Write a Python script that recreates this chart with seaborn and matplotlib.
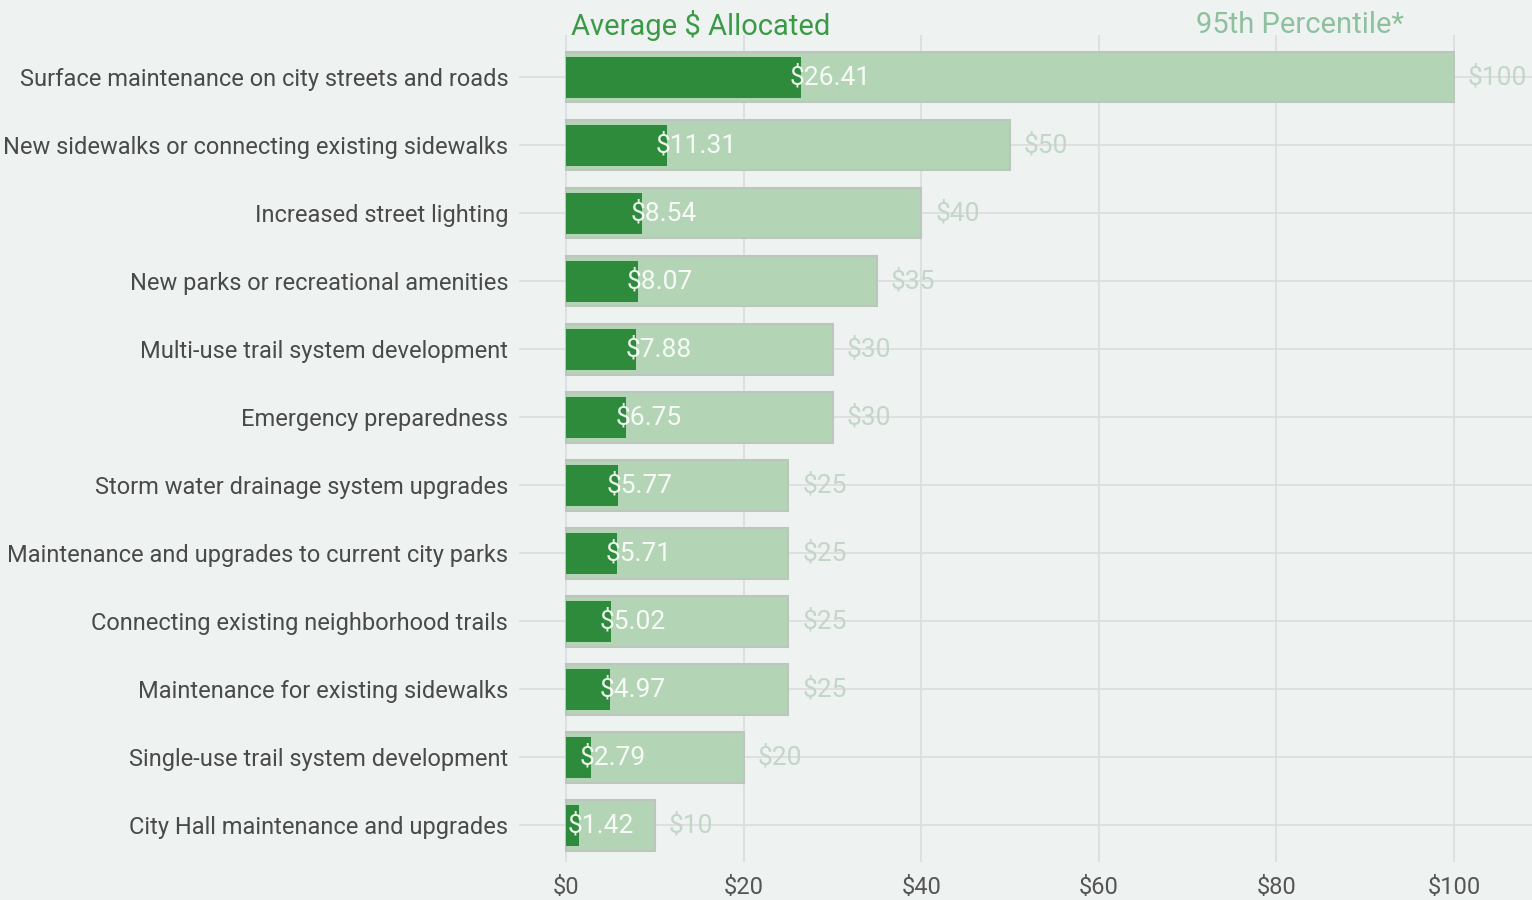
import numpy as np
import pandas as pd
import matplotlib.pyplot as plt
import seaborn as sns

categories = [
    'Surface maintenance on city streets and roads',
    'New sidewalks or connecting existing sidewalks',
    'Increased street lighting',
    'New parks or recreational amenities',
    'Multi-use trail system development',
    'Emergency preparedness',
    'Storm water drainage system upgrades',
    'Maintenance and upgrades to current city parks',
    'Connecting existing neighborhood trails',
    'Maintenance for existing sidewalks',
    'Single-use trail system development',
    'City Hall maintenance and upgrades',
]
average = [26.41, 11.31, 8.54, 8.07, 7.88, 6.75, 5.77, 5.71, 5.02, 4.97, 2.79, 1.42]
pct95 = [100, 50, 40, 35, 30, 30, 25, 25, 25, 25, 20, 10]

df = pd.DataFrame({'item': categories, 'average': average, 'pct95': pct95})

bg = '#eef3f1'
sns.set_theme(style='whitegrid', rc={'axes.facecolor': bg, 'figure.facecolor': bg,
                                     'grid.color': '#dddddd', 'grid.linewidth': 1.3})
plt.rcParams['font.family'] = ['Roboto', 'DejaVu Sans']

fig = plt.figure(figsize=(15.32, 9), dpi=100)
ax = fig.add_axes([0.339, 0.042, 0.661, 0.919])

# light bars = 95th percentile, dark bars = average on top
sns.barplot(data=df, y='item', x='pct95', color='#b3d5b5', saturation=1,
            width=0.74, edgecolor='#bcc6bd', linewidth=1.5, ax=ax)
sns.barplot(data=df, y='item', x='average', color='#2e8b3b', saturation=1,
            width=0.6, linewidth=0, ax=ax)

for i, (a, p) in enumerate(zip(average, pct95)):
    ax.annotate(f'${a:.2f}', (a, i), xytext=(-8, 0), textcoords='offset points',
                va='center', ha='left', color='white', fontsize=19, alpha=0.9)
    ax.annotate(f'${p}', (p, i), xytext=(10, 0), textcoords='offset points',
                va='center', ha='left', color='#c3d6c7', fontsize=19)

ax.set_xlim(-5.3, 108.8)
ax.set_ylim(11.54, -0.62)
ax.set_xticks([0, 20, 40, 60, 80, 100])
ax.set_xticklabels([f'${v}' for v in [0, 20, 40, 60, 80, 100]])
ax.set_xlabel('')
ax.set_ylabel('')
ax.tick_params(axis='y', labelsize=17, labelcolor='#4a4a4a', pad=8, length=0)
ax.tick_params(axis='x', labelsize=17, labelcolor='#555555', pad=10, length=0)
ax.grid(True, axis='both')
ax.set_axisbelow(True)
for s in ax.spines.values():
    s.set_visible(False)

fig.text(0.373, 0.972, 'Average $ Allocated', color='#3a9a46', fontsize=21,
         ha='left', va='center')
fig.text(0.781, 0.972, '95th Percentile*', color='#8dc09e', fontsize=21,
         ha='left', va='center')

fig.savefig('out.png', dpi=100, facecolor=bg)
